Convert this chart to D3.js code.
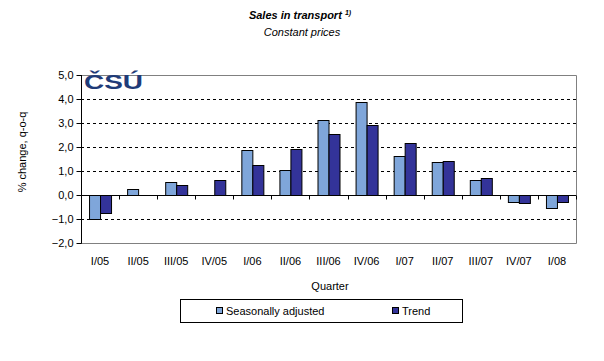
<!DOCTYPE html>
<html><head><meta charset="utf-8">
<script src="https://cdn.jsdelivr.net/npm/d3@7"></script>
<style>body{margin:0;background:#fff;} text{font-family:"Liberation Sans",Arial,sans-serif;}</style>
</head><body><svg id="c" width="604" height="361"></svg>
<script>
const categories = ["I/05","II/05","III/05","IV/05","I/06","II/06","III/06","IV/06","I/07","II/07","III/07","IV/07","I/08"];
const seasonallyAdjusted = [-1.0, 0.24, 0.53, 0.0, 1.86, 1.03, 3.11, 3.86, 1.61, 1.36, 0.61, -0.30, -0.55];
const trend = [-0.76, 0.0, 0.40, 0.61, 1.24, 1.90, 2.53, 2.90, 2.15, 1.40, 0.70, -0.35, -0.30];
const yTicks = [-2, -1, 0, 1, 2, 3, 4, 5];
const seriesNames = ["Seasonally adjusted", "Trend"];
const colors = ["#7FA6DA", "#333399"];

const svg = d3.select("#c");
const L = 81, R = 576, T = 75, B = 243;
const x = d3.scaleBand().domain(categories).range([L, R]).paddingInner(0).paddingOuter(0);
const y = d3.scaleLinear().domain([-2, 5]).range([B, T]);
const fmt = d => d3.format(".1f")(d).replace(".", ",");

// grid
svg.append("g").selectAll("line").data(yTicks.filter(d => d !== 0 && d !== 5 && d !== -2)).join("line")
  .attr("x1", L).attr("x2", R).attr("y1", d => Math.round(y(d)) + 0.5).attr("y2", d => Math.round(y(d)) + 0.5)
  .attr("stroke", "#000").attr("stroke-dasharray", "3,3");
// plot border (top, right, bottom)
svg.append("path").attr("d", `M${L},${T+0.5}H${R+0.5}V${B+0.5}H${L}`).attr("fill", "none").attr("stroke", "#808080");

// bars
const x1 = d3.scaleBand().domain([0, 1]).range([0, 22]);
const bw = x.bandwidth();
const groups = svg.append("g").selectAll("g").data(categories).join("g")
  .attr("transform", (d) => `translate(${x(d) + (bw - 22) / 2},0)`);
groups.selectAll("rect").data((d, i) => [seasonallyAdjusted[i], trend[i]]).join("rect")
  .attr("x", (d, j) => Math.round(x1(j)) + 0.5)
  .attr("width", x1.bandwidth())
  .attr("y", d => Math.round(y(Math.max(0, d))) + 0.5)
  .attr("height", d => Math.abs(Math.round(y(d)) - Math.round(y(0))))
  .attr("fill", (d, j) => colors[j]).attr("stroke", (d) => d === 0 ? "none" : "#000").attr("stroke-width", 1);

// zero axis
const y0 = Math.round(y(0)) + 0.5;
svg.append("line").attr("x1", L).attr("x2", R).attr("y1", y0).attr("y2", y0).attr("stroke", "#000");
svg.append("g").selectAll("line").data(d3.range(categories.length + 1)).join("line")
  .attr("x1", i => Math.round(L + i * bw) + 0.5).attr("x2", i => Math.round(L + i * bw) + 0.5)
  .attr("y1", y0).attr("y2", y0 + 4).attr("stroke", "#000");

// y axis
const ya = d3.axisLeft(y).tickValues(yTicks).tickFormat(fmt).tickSize(5).tickPadding(3);
const yg = svg.append("g").attr("transform", `translate(${L + 0.5},0)`).call(ya);
yg.select(".domain").attr("stroke", "#000").attr("d", `M0,${T}V${B + 0.5}`);
yg.selectAll(".tick line").attr("stroke", "#000");
yg.selectAll("text").attr("font-size", 11).attr("font-family", "Liberation Sans, Arial").attr("fill", "#000");

// x labels
svg.append("g").selectAll("text").data(categories).join("text")
  .attr("x", d => x(d) + bw / 2).attr("y", 265).attr("text-anchor", "middle")
  .attr("font-size", 11).text(d => d);

svg.append("text").attr("x", 330).attr("y", 290).attr("text-anchor", "middle").attr("font-size", 11).text("Quarter");
svg.append("text").attr("transform", "translate(26,152) rotate(-90)").attr("text-anchor", "middle").attr("font-size", 11).text("% change, q-o-q");

// title
const t = svg.append("text").attr("x", 300).attr("y", 19).attr("text-anchor", "middle").attr("font-size", 11).attr("font-weight", "bold").attr("font-style", "italic");
t.append("tspan").text("Sales in transport ");
t.append("tspan").attr("font-size", 7).attr("dy", -4).text("1)");
svg.append("text").attr("x", 302).attr("y", 36).attr("text-anchor", "middle").attr("font-size", 11).attr("font-style", "italic").text("Constant prices");

// logo
svg.append("text").attr("x", 84).attr("y", 89).attr("font-size", 21).attr("font-weight", "900")
  .attr("font-family", "DejaVu Sans").attr("fill", "#1F3B78").attr("textLength", 59).attr("lengthAdjust", "spacingAndGlyphs").text("ČSÚ");

// legend
svg.append("rect").attr("x", 180.5).attr("y", 299.5).attr("width", 282).attr("height", 23).attr("fill", "#fff").attr("stroke", "#000");
const lx = [216, 392];
seriesNames.forEach((n, i) => {
  svg.append("rect").attr("x", lx[i] + 0.5).attr("y", 307.5).attr("width", 6).attr("height", 6).attr("fill", colors[i]).attr("stroke", "#000");
  svg.append("text").attr("x", lx[i] + 10).attr("y", 315).attr("font-size", 11).text(n);
});
</script></body></html>
